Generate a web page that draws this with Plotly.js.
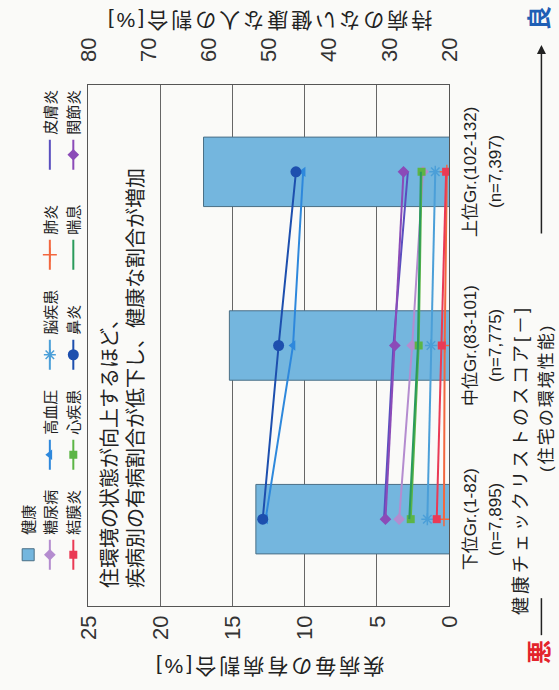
<!DOCTYPE html>
<html><head><meta charset="utf-8">
<script src="https://cdn.plot.ly/plotly-3.0.1.min.js"></script>
<style>
html,body{margin:0;padding:0;background:#fafaf8;overflow:hidden;width:559px;height:690px;}
#wrap{position:absolute;left:0;top:0;width:690px;height:559px;transform-origin:0 0;transform:translate(0px,690px) rotate(-90deg);}
#wrap .ytitle, #wrap .y2title{letter-spacing:3px;}
#wrap .annotation[data-index="4"] text{letter-spacing:3px;}
#wrap .annotation[data-index="5"] text{letter-spacing:2px;}
</style></head><body><div id="wrap"></div>
<script>
// categories (score groups)
const groups = ['下位Gr.(1-82)', '中位Gr.(83-101)', '上位Gr.(102-132)'];
const groupN = ['(n=7,895)', '(n=7,775)', '(n=7,397)'];
// right axis: share of people with no chronic disease [%]
const healthy = [52.1, 56.5, 60.8];
// left axis: prevalence by disease [%]
const diabetes = [3.45, 2.55, 1.8];      // 糖尿病
const hypertension = [12.7, 10.8, 10.1]; // 高血圧
const brain = [1.5, 1.25, 0.95];         // 脳疾患
const pneumonia = [0.35, 0.3, 0.15];     // 肺炎
const dermatitis = [4.5, 3.85, 2.85];    // 皮膚炎
const conjunctivitis = [0.85, 0.5, 0.2]; // 結膜炎
const heart = [2.65, 2.1, 1.9];          // 心疾患
const rhinitis = [12.9, 11.8, 10.6];     // 鼻炎
const asthma = [2.75, 2.15, 1.95];       // 喘息
const arthritis = [4.4, 3.75, 3.15];     // 関節炎

const FONT = '"Liberation Sans", "Noto Sans CJK JP", sans-serif';

function line(name, y, color, symbol, leg, size) {
  const t = {type:'scatter', x: groups, y: y, name: name, yaxis:'y2', legend: leg, showlegend:true,
    line:{color: color, width: 2}};
  if (symbol) {
    t.mode = 'lines+markers';
    t.marker = {symbol: symbol, size: size || 9, color: color, line:{color: color, width: (symbol.indexOf('open')>=0 ? 1.5 : 0)}};
  } else {
    t.mode = 'lines';
  }
  return t;
}

const traces = [
  {type:'bar', x: groups, y: healthy, name:'健康', yaxis:'y', legend:'legend4', showlegend:true, width:0.4,
   marker:{color:'#74b6de', line:{color:'#4a6f86', width:1}}},
  line('糖尿病', diabetes, '#b48ccf', 'diamond', 'legend2'),
  line('高血圧', hypertension, '#2e88dc', 'triangle-up', 'legend2'),
  line('脳疾患', brain, '#4b9fd8', 'asterisk-open', 'legend2', 10),
  line('肺炎', pneumonia, '#f2673f', 'cross-thin-open', 'legend2', 10),
  line('皮膚炎', dermatitis, '#5a4fbf', null, 'legend2'),
  line('結膜炎', conjunctivitis, '#ea3a55', 'square', 'legend3', 8),
  line('心疾患', heart, '#5cb546', 'square', 'legend3', 8),
  line('鼻炎', rhinitis, '#1d4fae', 'circle', 'legend3', 11),
  line('喘息', asthma, '#2a9b5c', null, 'legend3'),
  line('関節炎', arthritis, '#8b4bb8', 'diamond', 'legend3')
];

const nAnn = groupN.map((t, i) => ({xref:'x', yref:'paper', x: groups[i], y: -0.13,
  text: t, showarrow:false, font:{size:17, color:'#222', family: FONT}, yanchor:'middle'}));

const layout = {
  width: 690, height: 559,
  showlegend: true,
  margin: {l: 84, r: 85, t: 82, b: 110},
  paper_bgcolor: '#fafaf8', plot_bgcolor: 'rgba(0,0,0,0)',
  font: {family: FONT, color: '#222'},
  xaxis: {type:'category', categoryorder:'array', categoryarray: groups, range:[-0.5, 2.5],
    showline:true, mirror:true, linecolor:'#555', linewidth:1, ticks:'', showgrid:false,
    tickfont:{size:17, color:'#222'}, ticklabelstandoff: 6, zeroline:false},
  yaxis: {range:[20, 80], dtick:10, side:'right', showgrid:false, zeroline:false,
    showline:false, ticks:'', tickfont:{size:22, color:'#333'}, ticklabelstandoff: 22,
    title:{text:'持病のない健康な人の割合[%]', font:{size:21, color:'#222'}, standoff: 10}},
  yaxis2: {range:[0, 25], dtick:5, overlaying:'y', side:'left', showgrid:true,
    gridcolor:'#666', gridwidth:1, zeroline:false, showline:true, mirror:true, linecolor:'#555', linewidth:1, ticks:'',
    tickfont:{size:22, color:'#333'}, ticklabelstandoff: 4,
    title:{text:'疾病毎の有病割合[%]', font:{size:21, color:'#222'}, standoff: 12}},
  legend4: {orientation:'h', x: 0.06, y: 1.165, xanchor:'left', yanchor:'middle',
    bgcolor:'rgba(0,0,0,0)', font:{size:15}, itemwidth:30},
  legend2: {orientation:'h', x: 0.06, y: 1.105, xanchor:'left', yanchor:'middle',
    bgcolor:'rgba(0,0,0,0)', font:{size:15}, entrywidth: 55, itemwidth:30},
  legend3: {orientation:'h', x: 0.06, y: 1.04, xanchor:'left', yanchor:'middle',
    bgcolor:'rgba(0,0,0,0)', font:{size:15}, entrywidth: 55, itemwidth:30},
  shapes: [
    {type:'line', xref:'paper', yref:'paper', x0:-0.056, x1:0.015, y0:-0.256, y1:-0.256,
     line:{color:'#222', width:1.5}}
  ],
  annotations: nAnn.concat([
    {xref:'paper', yref:'paper', x:0.031, y:0.975, xanchor:'left', yanchor:'top', align:'left',
     showarrow:false, font:{size:20, color:'#222'},
     text:'住環境の状態が向上するほど、<br>疾病別の有病割合が低下し、健康な割合が増加'},
    {xref:'paper', yref:'paper', x:0.025, y:-0.2, xanchor:'left', yanchor:'middle',
     showarrow:false, font:{size:18, color:'#222'}, text:'健康チェックリストのスコア[－]'},
    {xref:'paper', yref:'paper', x:0.4, y:-0.27, xanchor:'center', yanchor:'middle',
     showarrow:false, font:{size:17, color:'#222'}, text:'(住宅の環境性能)'},
    {xref:'paper', yref:'paper', x:-0.088, y:-0.25, xanchor:'center', yanchor:'middle',
     showarrow:false, font:{size:24, color:'#e3232b', weight:'bold'}, text:'悪'},
    {xref:'paper', yref:'paper', x:1.129, y:-0.25, xanchor:'center', yanchor:'middle',
     showarrow:false, font:{size:24, color:'#1f5fb5', weight:'bold'}, text:'良'},
    {xref:'paper', yref:'paper', x:1.077, y:-0.256, ax:-190, ay:0, text:'', showarrow:true,
     arrowhead:2, arrowsize:1.2, arrowwidth:1.5, arrowcolor:'#222'}
  ])
};

Plotly.newPlot('wrap', traces, layout, {displayModeBar:false, staticPlot:true});
</script></body></html>
